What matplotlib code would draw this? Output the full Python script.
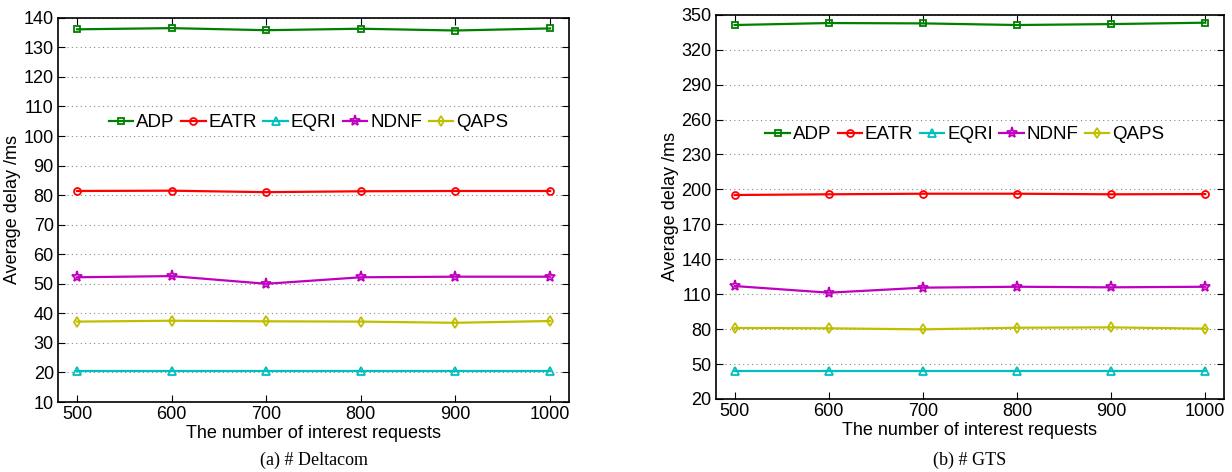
import matplotlib
matplotlib.use("Agg")
import matplotlib.pyplot as plt

plt.rcParams["font.family"] = ["Liberation Sans", "DejaVu Sans"]

requests = [500, 600, 700, 800, 900, 1000]
methods = ["ADP", "EATR", "EQRI", "NDNF", "QAPS"]

# (a) Deltacom
delta_adp = [136.1, 136.5, 135.8, 136.3, 135.7, 136.4]
delta_eatr = [81.4, 81.5, 81.0, 81.3, 81.4, 81.4]
delta_eqri = [20.6, 20.6, 20.6, 20.6, 20.6, 20.6]
delta_ndnf = [52.2, 52.6, 50.0, 52.2, 52.4, 52.4]
delta_qaps = [37.2, 37.5, 37.3, 37.2, 36.8, 37.4]

# (b) GTS
gts_adp = [341.2, 342.9, 342.6, 341.2, 342.0, 343.2]
gts_eatr = [195.2, 195.8, 196.3, 196.3, 195.8, 196.0]
gts_eqri = [44.0, 44.0, 44.0, 44.0, 44.0, 44.0]
gts_ndnf = [117.0, 111.3, 115.6, 116.4, 115.9, 116.4]
gts_qaps = [81.0, 80.7, 79.8, 81.2, 81.5, 80.4]

colors = ["#008000", "#ff0000", "#00bfbf", "#bf00bf", "#bfbf00"]
markers = ["s", "o", "^", "*", "d"]
msizes = [5, 5, 6, 8, 5]

fig = plt.figure(figsize=(12.32, 4.72), dpi=100)
ax1 = fig.add_axes([0.0471, 0.1483, 0.4148, 0.814])
ax2 = fig.add_axes([0.581, 0.1547, 0.4126, 0.814])

panels = [
    (ax1, [delta_adp, delta_eatr, delta_eqri, delta_ndnf, delta_qaps],
     (10, 140), list(range(10, 141, 10)), "(a) # Deltacom", 0.727),
    (ax2, [gts_adp, gts_eatr, gts_eqri, gts_ndnf, gts_qaps],
     (20, 350), list(range(20, 351, 30)), "(b) # GTS", 0.6875),
]

for ax, series, ylim, yticks, caption, leg_y in panels:
    for vals, name, c, m, ms in zip(series, methods, colors, markers, msizes):
        ax.plot(requests, vals, color=c, marker=m, markersize=ms,
                markerfacecolor="none", markeredgewidth=1.3, linewidth=1.6,
                label=name)
    ax.set_xlim(480, 1020)
    ax.set_ylim(*ylim)
    ax.set_xticks(requests)
    ax.set_yticks(yticks)
    ax.yaxis.grid(True, linestyle=(0, (1, 3)), color="#888888", linewidth=0.8)
    ax.tick_params(direction="in", top=True, right=True, labelsize=13,
                   length=5, width=0.8, pad=3)
    for sp in ax.spines.values():
        sp.set_linewidth(1.2)
    ax.set_xlabel("The number of interest requests", fontsize=13, labelpad=1)
    ax.set_ylabel("Average delay /ms", fontsize=13, labelpad=2)
    ax.legend(loc="center", bbox_to_anchor=(0.49, leg_y), ncol=5, frameon=False,
              fontsize=13.5, handlelength=1.3, handletextpad=0.15,
              columnspacing=0.35, borderaxespad=0)
    pos = ax.get_position()
    fig.text((pos.x0 + pos.x1) / 2, 0.025, caption, ha="center", va="center",
             fontsize=13, family=["Liberation Serif", "DejaVu Serif"])

fig.savefig("out.png", dpi=100)
